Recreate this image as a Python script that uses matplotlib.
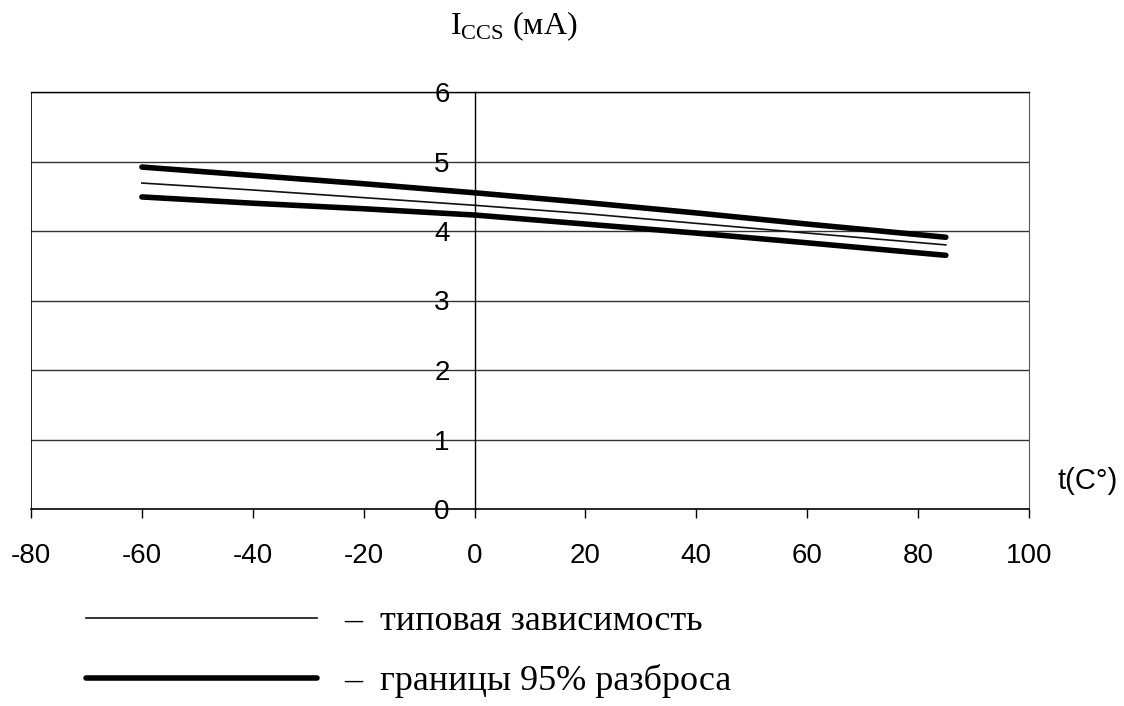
import numpy as np
import matplotlib
matplotlib.use('Agg')
import matplotlib.pyplot as plt

# temperature points, deg C
t = [-60, -40, -20, 0, 20, 40, 60, 85]
# current, mA
i_typ = [4.69, 4.59, 4.48, 4.37, 4.25, 4.11, 3.97, 3.80]
i_upper = [4.92, 4.80, 4.68, 4.55, 4.41, 4.26, 4.10, 3.91]
i_lower = [4.49, 4.40, 4.32, 4.23, 4.10, 3.97, 3.83, 3.65]

x_ticks = [-80, -60, -40, -20, 0, 20, 40, 60, 80, 100]
y_ticks = [0, 1, 2, 3, 4, 5, 6]

plt.rcParams['font.family'] = ['Liberation Sans', 'DejaVu Sans']
plt.rcParams['axes.unicode_minus'] = False
serif = ['Liberation Serif', 'DejaVu Serif']

W, H = 1124, 706
fig = plt.figure(figsize=(W / 100, H / 100), dpi=100)
ax = fig.add_axes([31 / W, 1 - 509 / H, (1029 - 31) / W, (509 - 92) / H])

ax.plot(t, i_typ, color='#111111', lw=1.2, label='–  типовая зависимость')
ax.plot(t, i_upper, color='black', lw=4.0, solid_capstyle='round', label='–  границы 95% разброса')
ax.plot(t, i_lower, color='black', lw=4.0, solid_capstyle='round')

ax.set_xlim(-80, 100)
ax.set_ylim(0, 6)
ax.set_xticks(x_ticks)
ax.set_yticks(y_ticks)
for y in y_ticks[1:]:
    ax.axhline(y, color='#333333', lw=1.0, zorder=0)

ax.spines['left'].set_position(('data', 0))
ax.spines['left'].set_linewidth(1.0)
ax.spines['top'].set_linewidth(1.0)
ax.spines['right'].set_linewidth(0.8)
ax.spines['right'].set_color('#555555')
ax.spines['bottom'].set_linewidth(1.2)
ax.axvline(-80, color='black', lw=1.2)

ax.tick_params(axis='both', labelsize=20, width=1.0, direction='out')
ax.tick_params(axis='y', length=0, pad=18)
ax.tick_params(axis='x', length=6.5, pad=18)

fig.text(514 / W, 1 - 26 / H, r'I$_{\mathregular{CCS}}$ (мА)', ha='center', va='center',
         fontsize=23, family=serif)
fig.text(1088 / W, 1 - 481 / H, 't(C°)', ha='center', va='center', fontsize=21)

h, l = ax.get_legend_handles_labels()
leg = fig.legend(h, l, loc='upper left', bbox_to_anchor=(86 / W, 1 - 605 / H),
                 frameon=False, borderpad=0, borderaxespad=0,
                 handlelength=6.4, labelspacing=0.72, handletextpad=0.75,
                 prop={'family': serif, 'size': 26})

fig.savefig('out.png', dpi=100)
